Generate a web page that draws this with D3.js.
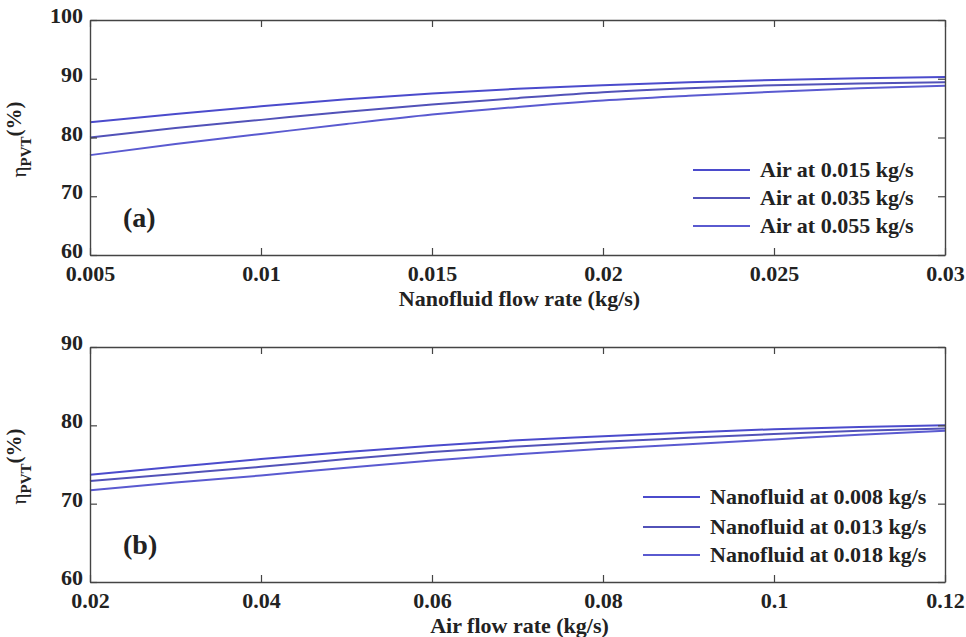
<!DOCTYPE html>
<html>
<head>
<meta charset="utf-8">
<script src="https://cdn.jsdelivr.net/npm/d3@7"></script>
<style>
  body { margin: 0; background: #fff; }
</style>
</head>
<body>
<div id="chart"></div>
<script>
// panel (a): efficiency vs nanofluid flow rate, one curve per air flow rate
const nanoFlow = [0.005, 0.0075, 0.01, 0.0125, 0.015, 0.0175, 0.02, 0.0225, 0.025, 0.0275, 0.03];
const air015 = [82.6, 84.0, 85.3, 86.5, 87.5, 88.3, 88.9, 89.4, 89.8, 90.1, 90.3];
const air035 = [80.0, 81.6, 83.0, 84.4, 85.6, 86.7, 87.7, 88.4, 88.9, 89.2, 89.4];
const air055 = [77.0, 78.9, 80.6, 82.3, 83.9, 85.2, 86.3, 87.1, 87.8, 88.4, 88.8];
const seriesA = ['Air at 0.015 kg/s', 'Air at 0.035 kg/s', 'Air at 0.055 kg/s'];
const ticksAx = [0.005, 0.01, 0.015, 0.02, 0.025, 0.03];
const ticksAy = [60, 70, 80, 90, 100];

// panel (b): efficiency vs air flow rate, one curve per nanofluid flow rate
const airFlow = [0.02, 0.03, 0.04, 0.05, 0.06, 0.07, 0.08, 0.09, 0.1, 0.11, 0.12];
const nano008 = [73.7, 74.7, 75.7, 76.6, 77.4, 78.1, 78.6, 79.1, 79.5, 79.8, 80.0];
const nano013 = [72.9, 73.8, 74.7, 75.7, 76.6, 77.3, 77.9, 78.4, 78.9, 79.3, 79.6];
const nano018 = [71.7, 72.7, 73.6, 74.6, 75.5, 76.3, 77.0, 77.6, 78.2, 78.8, 79.3];
const seriesB = ['Nanofluid at 0.008 kg/s', 'Nanofluid at 0.013 kg/s', 'Nanofluid at 0.018 kg/s'];
const ticksBx = [0.02, 0.04, 0.06, 0.08, 0.1, 0.12];
const ticksBy = [60, 70, 80, 90];

const width = 966, height = 637;
const lineColors = ['#4b4bcc', '#5252b8', '#5a5ad0'];
const serif = "'Liberation Serif', 'DejaVu Serif', serif";
const fontSize = '22px';

const svg = d3.select('#chart').append('svg')
  .attr('width', width).attr('height', height)
  .style('font-family', serif)
  .style('font-weight', 'bold');

const panels = [
  {
    tag: '(a)', xs: nanoFlow, ys: [air015, air035, air055], names: seriesA,
    xDomain: [0.005, 0.03], yDomain: [60, 100], xTicks: ticksAx, yTicks: ticksAy,
    top: 20, bottom: 255, xTitle: 'Nanofluid flow rate (kg/s)',
    legendX: 693, legendY: [170, 198, 226]
  },
  {
    tag: '(b)', xs: airFlow, ys: [nano008, nano013, nano018], names: seriesB,
    xDomain: [0.02, 0.12], yDomain: [60, 90], xTicks: ticksBx, yTicks: ticksBy,
    top: 347, bottom: 582, xTitle: 'Air flow rate (kg/s)',
    legendX: 643, legendY: [497, 527, 555]
  }
];

const left = 90, right = 945;
const tickLen = 7;
const fmt = d => String(+d.toFixed(4));

panels.forEach(p => {
  const g = svg.append('g');
  const x = d3.scaleLinear().domain(p.xDomain).range([left, right]);
  const y = d3.scaleLinear().domain(p.yDomain).range([p.bottom, p.top]);

  // curves
  const line = d3.line()
    .x((d, i) => x(p.xs[i]))
    .y(d => y(d))
    .curve(d3.curveMonotoneX);

  p.ys.forEach((vals, k) => {
    g.append('path')
      .attr('d', line(vals))
      .attr('fill', 'none')
      .attr('stroke', lineColors[k])
      .attr('stroke-width', 2);
  });

  // axes with inward ticks on all four sides
  const bottomAxis = g.append('g')
    .attr('transform', `translate(0,${p.bottom})`)
    .call(d3.axisBottom(x).tickValues(p.xTicks).tickFormat(fmt)
      .tickSize(-tickLen).tickSizeOuter(0).tickPadding(5));
  const topAxis = g.append('g')
    .attr('transform', `translate(0,${p.top})`)
    .call(d3.axisTop(x).tickValues(p.xTicks).tickFormat('')
      .tickSize(-tickLen).tickSizeOuter(0));
  const leftAxis = g.append('g')
    .attr('transform', `translate(${left},0)`)
    .call(d3.axisLeft(y).tickValues(p.yTicks)
      .tickSize(-tickLen).tickSizeOuter(0).tickPadding(7));
  const rightAxis = g.append('g')
    .attr('transform', `translate(${right},0)`)
    .call(d3.axisRight(y).tickValues(p.yTicks).tickFormat('')
      .tickSize(-tickLen).tickSizeOuter(0));

  [bottomAxis, topAxis, leftAxis, rightAxis].forEach(a => {
    a.attr('font-family', null).attr('font-size', null);
    a.select('.domain').attr('stroke', '#444').attr('stroke-width', 1.4);
    a.selectAll('.tick line').attr('stroke', '#444').attr('stroke-width', 1.2);
    a.selectAll('text')
      .style('font-family', serif)
      .style('font-weight', 'bold')
      .style('font-size', fontSize)
      .attr('fill', '#222');
  });
  bottomAxis.selectAll('text').attr('dy', '0.95em');
  leftAxis.selectAll('text').attr('dy', '0.12em');

  // x title
  g.append('text')
    .attr('x', (left + right) / 2 + 2)
    .attr('y', p.bottom + 51)
    .attr('text-anchor', 'middle')
    .style('font-size', fontSize)
    .attr('fill', '#222')
    .text(p.xTitle);

  // y title: eta_PVT(%)
  const yt = g.append('text')
    .attr('transform', `translate(26,${(p.top + p.bottom) / 2 + 2}) rotate(-90)`)
    .attr('text-anchor', 'middle')
    .attr('fill', '#222')
    .style('font-size', '21px');
  yt.append('tspan').style('font-weight', 'normal').text('η');
  yt.append('tspan').style('font-size', '15px').attr('dy', 5).text('PVT');
  yt.append('tspan').attr('dy', -10).text('(%)');

  // panel tag
  g.append('text')
    .attr('x', 123)
    .attr('y', p.bottom - 28)
    .attr('fill', '#222')
    .style('font-size', '28px')
    .text(p.tag);

  // legend
  p.names.forEach((name, k) => {
    const ly = p.legendY[k];
    g.append('line')
      .attr('x1', p.legendX).attr('x2', p.legendX + 57)
      .attr('y1', ly).attr('y2', ly)
      .attr('stroke', lineColors[k]).attr('stroke-width', 2);
    g.append('text')
      .attr('x', p.legendX + 67)
      .attr('y', ly + 7)
      .attr('fill', '#222')
      .style('font-size', fontSize)
      .text(name);
  });
});
</script>
</body>
</html>
